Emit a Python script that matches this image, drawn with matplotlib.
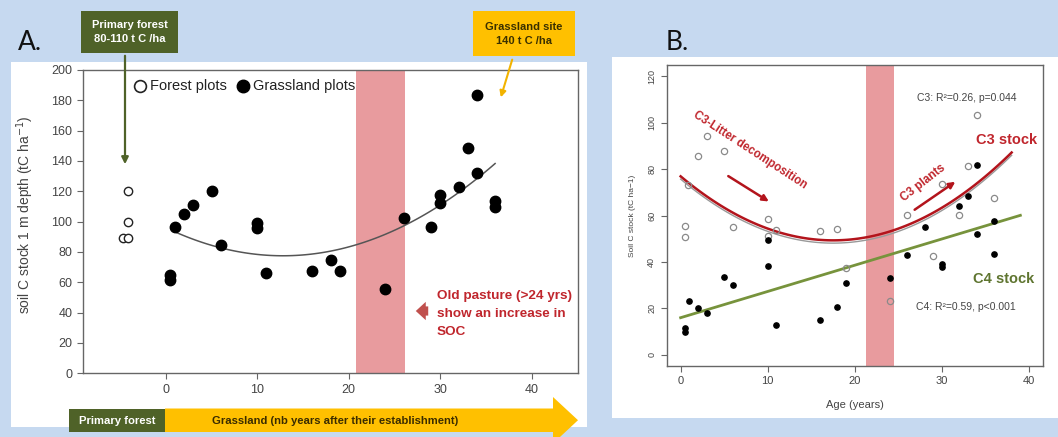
import matplotlib.pyplot as plt
import matplotlib.patches as mpatches
import numpy as np

# ---- panel A : soil C stock, 1 m depth ----
forest_age = [-4.1, -4.1, -4.7, -4.1]
forest_soc = [120, 100, 89, 89]
grass_age = [0.5, 0.5, 1, 2, 3, 5, 6, 10, 10, 11, 16, 18, 19, 24, 26, 29, 30, 30, 32, 33, 34, 34, 36, 36]
grass_soc = [64.8, 61.5, 96.2, 104.8, 111.2, 120.2, 84.4, 99.3, 96.0, 66.3, 67.2, 74.7, 67.4, 55.6,
             102.2, 96.7, 117.7, 112.0, 122.8, 148.5, 183.7, 131.8, 113.8, 109.8]
# quadratic fit: soc = fit_min + fit_curv * (age - fit_vertex)^2
fit_min, fit_curv, fit_vertex = 77.5, 0.113, 12.8
fit_range = (1.2, 36)
band_a = (20.8, 26.1)

# ---- panel B : C3 / C4 stocks ----
c3_age = [0.5, 0.5, 0.9, 2, 3, 5, 6, 10, 10, 11, 16, 18, 19, 24, 26, 29, 30, 32, 33, 34, 36]
c3_soc = [55.3, 50.8, 73.3, 85.8, 94.1, 87.7, 54.9, 58.5, 51.3, 53.9, 53.5, 54.3, 37.4, 23.0,
          60.1, 42.7, 73.7, 60.1, 81.5, 103.1, 67.6]
c4_age = [0.5, 0.5, 1, 2, 3, 5, 6, 10, 10, 11, 16, 18, 19, 24, 26, 28, 30, 30, 32, 33, 34, 34, 36, 36]
c4_soc = [11.5, 10.0, 23.4, 20.1, 18.0, 33.5, 30.2, 38.4, 49.6, 12.9, 15.1, 20.6, 30.9, 33.1,
          43.1, 54.9, 39.2, 38.0, 64.0, 68.3, 81.9, 52.2, 43.4, 57.5]
c3_min, c3_curv, c3_vertex = 49.3, 0.09, 17.5
c3_range = (0, 38)
c4_icpt, c4_slope = 16.0, 1.13
c4_range = (0, 39)
band_b = (21.3, 24.5)

W, H = 1058, 437
BLUE = '#c6d9f0'
OLIVE = '#4f6228'
ORANGE = '#ffc000'
RED = '#c0262d'
plt.rcParams['font.family'] = ['Liberation Sans', 'DejaVu Sans']

fig = plt.figure(figsize=(W / 100, H / 100), dpi=100)
fig.patch.set_facecolor(BLUE)


def px_axes(left, top, right, bottom, **kw):
    return fig.add_axes([left / W, 1 - bottom / H, (right - left) / W, (bottom - top) / H], **kw)


# white panels
bg = fig.add_axes([0, 0, 1, 1], zorder=0)
bg.set_xlim(0, W)
bg.set_ylim(H, 0)
bg.axis('off')
bg.add_patch(mpatches.Rectangle((11, 62), 576, 365, color='white', lw=0))
bg.add_patch(mpatches.Rectangle((612, 57), 446, 361, color='white', lw=0))


def style(ax, size):
    for s in ax.spines.values():
        s.set_color('#666666')
        s.set_linewidth(1)
    ax.tick_params(direction='out', colors='#666666', labelcolor='#444444', labelsize=size, length=4)


# ---------- panel A ----------
axA = px_axes(82.7, 70, 578.3, 373.3, zorder=1)
style(axA, 9)
axA.set_xlim(-9.1, 45.1)
axA.set_ylim(0, 200)
axA.set_xticks([0, 10, 20, 30, 40])
axA.set_yticks(range(0, 201, 20))
axA.axvspan(*band_a, color='#e89b9e', lw=0, zorder=0)
xa = np.linspace(*fit_range, 100)
axA.plot(xa, fit_min + fit_curv * (xa - fit_vertex) ** 2, color='#555555', lw=1.1, zorder=2)
axA.plot(forest_age, forest_soc, 'o', mfc='white', mec='#222222', mew=1, ms=6, zorder=3)
axA.plot(grass_age, grass_soc, 'o', color='black', ms=7.5, zorder=3)
# legend
axA.plot([-2.8], [189.4], 'o', mfc='white', mec='#222222', mew=1.2, ms=8.5)
axA.text(-1.7, 189.4, 'Forest plots', va='center', fontsize=10.5, color='#222222')
axA.plot([8.4], [189.4], 'o', color='black', ms=9)
axA.text(9.5, 189.4, 'Grassland plots', va='center', fontsize=10.5, color='#222222')
fig.text(25 / W, 1 - 215 / H, 'soil C stock 1 m depth (tC ha$^{-1}$)', rotation=90,
         ha='center', va='center', fontsize=10, color='#444444')

# ---------- panel B ----------
axB = px_axes(666.7, 65, 1043, 366, zorder=1)
style(axB, 8)
axB.tick_params(axis='y', labelsize=6.5)
axB.set_xlim(-1.6, 41.6)
axB.set_ylim(-4.8, 124.8)
axB.set_xticks([0, 10, 20, 30, 40])
axB.set_yticks(range(0, 121, 20))
for lab in axB.get_yticklabels():
    lab.set_rotation(90)
    lab.set_va('center')
axB.axvspan(*band_b, color='#e89b9e', lw=0, zorder=0)
xb = np.linspace(*c3_range, 100)
c3_fit = c3_min + c3_curv * (xb - c3_vertex) ** 2
axB.plot(xb, c3_fit - 1.2, color='#999999', lw=1.0, zorder=2)
axB.plot(xb, c3_fit, color='#b3141c', lw=1.8, zorder=3)
xl = np.array(c4_range)
axB.plot(xl, c4_icpt + c4_slope * xl, color='#77933c', lw=2, zorder=3)
axB.plot(c3_age, c3_soc, 'o', mfc='none', mec='#8a8a8a', mew=0.9, ms=4.5, zorder=4)
axB.plot(c4_age, c4_soc, 'o', color='black', ms=3.8, zorder=4)
axB.set_xlabel('Age (years)', fontsize=8, color='#444444', labelpad=10)
axB.set_ylabel('Soil C stock (tC ha\u22121)', fontsize=6, color='#444444', labelpad=8)

axB.text(32.8, 110.8, 'C3: R\u00b2=0.26, p=0.044', ha='center', va='center', fontsize=7.5, color='#444444')
axB.text(32.8, 20.4, 'C4: R\u00b2=0.59, p<0.001', ha='center', va='center', fontsize=7.5, color='#444444')
axB.text(37.4, 92.4, 'C3 stock', ha='center', va='center', fontsize=10.5, fontweight='bold', color=RED)
axB.text(37.1, 32.8, 'C4 stock', ha='center', va='center', fontsize=10.5, fontweight='bold', color='#5f7530')
axB.text(8.0, 88, 'C3-Litter decomposition', ha='center', va='center', rotation=-33,
         fontsize=8.3, fontweight='bold', color=RED, rotation_mode='anchor')
axB.text(27.8, 74, 'C3 plants', ha='center', va='center', rotation=38,
         fontsize=8.5, fontweight='bold', color=RED, rotation_mode='anchor')
for (x0, y0), (x1, y1) in [((5.2, 77.6), (10.4, 65.4)), ((26.6, 61.8), (31.8, 75.2))]:
    axB.annotate('', xy=(x1, y1), xytext=(x0, y0),
                 arrowprops=dict(arrowstyle='-|>', color='#b3141c', lw=1.8, mutation_scale=9))

# ---------- overlay : labels, boxes, arrows ----------
ov = fig.add_axes([0, 0, 1, 1], zorder=5)
ov.set_xlim(0, W)
ov.set_ylim(H, 0)
ov.axis('off')
ov.patch.set_alpha(0)

ov.text(30, 43, 'A.', ha='center', va='center', fontsize=19, color='#111111', family=['Lato', 'DejaVu Sans'])
ov.text(677, 43, 'B.', ha='center', va='center', fontsize=19, color='#111111', family=['Lato', 'DejaVu Sans'])

ov.add_patch(mpatches.Rectangle((81, 11), 97, 42, color=OLIVE, lw=0))
ov.text(129.5, 32, 'Primary forest\n80-110 t C /ha', ha='center', va='center', color='white',
        fontsize=8, fontweight='bold', linespacing=1.6)
ov.annotate('', xy=(125, 167), xytext=(125, 53),
            arrowprops=dict(arrowstyle='-|>', color=OLIVE, lw=1.6, mutation_scale=10))

ov.add_patch(mpatches.Rectangle((473, 11), 102, 45, color=ORANGE, lw=0))
ov.text(524, 34, 'Grassland site\n140 t C /ha', ha='center', va='center', color='#3a3000',
        fontsize=8, fontweight='bold', linespacing=1.6)
ov.annotate('', xy=(500, 100), xytext=(513, 57),
            arrowprops=dict(arrowstyle='-|>', color='#f2b300', lw=1.5, mutation_scale=9))

ov.text(437, 314, 'Old pasture (>24 yrs)\nshow an increase in\nSOC', ha='left', va='center',
        color=RED, fontsize=9.7, fontweight='bold', linespacing=1.65)
ov.annotate('', xy=(413, 311), xytext=(431, 311),
            arrowprops=dict(arrowstyle='simple,head_length=0.6,head_width=1.1,tail_width=0.55',
                            color='#c0504d', lw=0, mutation_scale=12))

# bottom timeline arrow
ov.add_patch(mpatches.Rectangle((69, 408.5), 96, 23.5, color=OLIVE, lw=0))
ov.add_patch(mpatches.Polygon([(165, 408.5), (553, 408.5), (553, 397), (578, 420.2),
                               (553, 443.5), (553, 432), (165, 432)], closed=True,
                              color=ORANGE, lw=0))
ov.text(117, 420.5, 'Primary forest', ha='center', va='center', color='white',
        fontsize=8.1, fontweight='bold')
ov.text(335, 420.5, 'Grassland (nb years after their establishment)', ha='center', va='center',
        color='#3a2c00', fontsize=8.1, fontweight='bold')

fig.savefig('out.png', dpi=100, facecolor=fig.get_facecolor())
